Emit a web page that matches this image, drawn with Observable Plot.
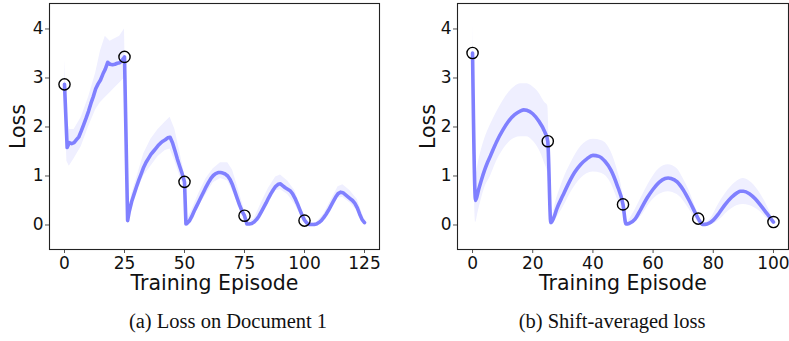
<!DOCTYPE html>
<html>
<head>
<meta charset="utf-8">
<script src="https://cdn.jsdelivr.net/npm/d3@7"></script>
<script src="https://cdn.jsdelivr.net/npm/@observablehq/plot@0.6"></script>
<style>
  html, body { margin: 0; padding: 0; background: #fff; }
  #wrap { position: relative; width: 789px; height: 341px; overflow: hidden; }
  .panel { position: absolute; top: 0; }
  .cap { position: absolute; top: 309px; font-family: "Liberation Serif", "DejaVu Serif", serif; font-size: 20.5px; line-height: 24px; color: #111; white-space: nowrap; transform: translateX(-50%); }
</style>
</head>
<body>
<div id="wrap">
  <div id="left" class="panel" style="left:0px"></div>
  <div id="right" class="panel" style="left:395px"></div>
  <div class="cap" style="left:228px">(a) Loss on Document 1</div>
  <div class="cap" style="left:612px">(b) Shift-averaged loss</div>
</div>
<script>
// ---------- Panel (a): Loss on Document 1 ----------
const leftX = [
  0, 1.1, 2, 3, 4, 5, 6, 7, 8, 9, 10, 11, 12, 13, 14, 15, 16, 17, 18, 19, 20, 21, 22, 23, 24, 25,
  26.3, 27, 28, 29, 30, 31, 32, 33, 34, 35, 36, 37, 38, 39, 40, 41, 42, 43, 44, 45, 46, 47, 48, 49, 50,
  50.6, 51, 52, 53, 54, 55, 56, 57, 58, 59, 60, 61, 62, 63, 64, 65, 66, 67, 68, 69, 70, 71, 72, 73, 74, 75,
  76, 77, 78, 79, 80, 81, 82, 83, 84, 85, 86, 87, 88, 89, 90, 91, 92, 93, 94, 95, 96, 97, 98, 99, 100,
  101, 102, 103, 104, 105, 106, 107, 108, 109, 110, 111, 112, 113, 114, 115, 116, 117, 118, 119, 120, 121, 122, 123, 124, 125
];
const leftLoss = [
  2.87, 1.58, 1.68, 1.66, 1.68, 1.74, 1.80, 1.92, 2.05, 2.18, 2.32, 2.48, 2.62, 2.78, 2.88, 2.96, 3.08, 3.18, 3.32, 3.28, 3.27, 3.28, 3.30, 3.31, 3.36, 3.43,
  0.09, 0.28, 0.48, 0.63, 0.78, 0.92, 1.05, 1.18, 1.28, 1.36, 1.44, 1.50, 1.56, 1.62, 1.67, 1.71, 1.74, 1.78, 1.79, 1.68, 1.52, 1.35, 1.20, 1.05, 0.88,
  0.02, 0.03, 0.08, 0.17, 0.28, 0.38, 0.48, 0.58, 0.68, 0.78, 0.87, 0.95, 1.01, 1.05, 1.07, 1.07, 1.06, 1.04, 1.00, 0.93, 0.82, 0.68, 0.54, 0.40, 0.28, 0.19,
  0.02, 0.02, 0.03, 0.06, 0.11, 0.18, 0.27, 0.36, 0.45, 0.55, 0.64, 0.72, 0.79, 0.83, 0.84, 0.80, 0.76, 0.73, 0.70, 0.64, 0.55, 0.44, 0.32, 0.20, 0.10,
  0.04, 0.01, 0.01, 0.01, 0.02, 0.05, 0.09, 0.15, 0.22, 0.30, 0.39, 0.48, 0.57, 0.64, 0.67, 0.66, 0.62, 0.58, 0.54, 0.50, 0.44, 0.35, 0.22, 0.11, 0.05
];
const leftBandX  = [0, 1, 2, 4, 7, 10, 13, 15, 17, 19, 21, 23, 25, 26.3, 28, 30, 33, 36, 39, 42, 44, 46, 48, 50, 50.6, 53, 56, 59, 62, 65, 68, 70, 72, 75, 76, 79, 82, 85, 88, 90, 93, 96, 100, 102, 105, 108, 111, 114, 116, 119, 122, 125];
const leftBandLo = [2.75, 1.3, 1.2, 1.35, 1.6, 2.0, 2.35, 2.5, 2.6, 2.7, 2.8, 2.9, 3.0, 0.05, 0.35, 0.65, 1.0, 1.2, 1.4, 1.52, 1.55, 1.3, 1.0, 0.75, 0.0, 0.1, 0.38, 0.62, 0.86, 0.95, 0.9, 0.7, 0.45, 0.12, 0.0, 0.03, 0.2, 0.45, 0.7, 0.72, 0.62, 0.42, 0.05, 0.0, 0.0, 0.1, 0.32, 0.55, 0.56, 0.45, 0.28, 0.02];
const leftBandHi = [3.37, 2.2, 1.95, 1.95, 2.2, 2.6, 3.1, 3.55, 3.85, 3.75, 3.8, 3.85, 4.0, 0.15, 0.62, 0.95, 1.45, 1.75, 1.95, 2.1, 2.2, 1.95, 1.5, 1.05, 0.05, 0.3, 0.65, 0.95, 1.15, 1.27, 1.27, 1.12, 0.8, 0.3, 0.05, 0.12, 0.45, 0.75, 0.98, 1.02, 0.9, 0.7, 0.18, 0.04, 0.05, 0.22, 0.5, 0.78, 0.82, 0.7, 0.52, 0.1];
const leftMarkX = [0, 25, 50, 75, 100];
const leftMarkY = [2.87, 3.43, 0.88, 0.19, 0.09];
const leftXTicks = [0, 25, 50, 75, 100, 125];

// ---------- Panel (b): Shift-averaged loss ----------
const rightX = [0, 1, 2, 3, 4, 5, 6, 8, 10, 12, 14, 16, 17, 18, 20, 22, 24, 25,
  26, 27, 28, 30, 32, 34, 36, 38, 40, 42, 44, 46, 48, 50,
  51, 52, 54, 56, 58, 60, 62, 64, 65, 66, 68, 70, 72, 74, 75,
  76.5, 78, 80, 82, 84, 86, 88, 89, 90, 92, 94, 96, 98, 100];
const rightLoss = [3.51, 0.50, 0.72, 0.93, 1.12, 1.28, 1.42, 1.70, 1.93, 2.12, 2.25, 2.33, 2.35, 2.34, 2.27, 2.12, 1.90, 1.71,
  0.05, 0.15, 0.33, 0.60, 0.86, 1.08, 1.24, 1.35, 1.42, 1.40, 1.30, 1.12, 0.82, 0.42,
  0.02, 0.03, 0.12, 0.33, 0.55, 0.73, 0.87, 0.95, 0.96, 0.95, 0.88, 0.72, 0.50, 0.25, 0.13,
  0.01, 0.02, 0.10, 0.25, 0.42, 0.56, 0.66, 0.69, 0.69, 0.64, 0.53, 0.38, 0.22, 0.06];
const rightBandX  = [0, 1, 2, 4, 6, 8, 10, 12, 14, 16, 18, 20, 22, 24, 25, 26, 28, 30, 33, 36, 40, 43, 46, 48, 50, 51, 53, 56, 59, 62, 65, 68, 70, 72, 75, 76.5, 79, 82, 85, 88, 90, 92, 95, 98, 100];
const rightBandLo = [3.1, 0.05, 0.3, 0.75, 1.0, 1.3, 1.52, 1.68, 1.77, 1.8, 1.8, 1.72, 1.55, 1.25, 1.05, 0.0, 0.15, 0.35, 0.7, 0.95, 1.08, 1.05, 0.85, 0.55, 0.25, 0.0, 0.02, 0.18, 0.45, 0.62, 0.68, 0.62, 0.5, 0.32, 0.05, 0.0, 0.0, 0.1, 0.28, 0.4, 0.42, 0.4, 0.3, 0.12, 0.02];
const rightBandHi = [4.12, 1.0, 1.3, 1.75, 2.05, 2.3, 2.52, 2.7, 2.82, 2.88, 2.88, 2.82, 2.7, 2.5, 2.43, 0.12, 0.55, 0.9, 1.3, 1.6, 1.75, 1.72, 1.5, 1.15, 0.6, 0.05, 0.2, 0.55, 0.9, 1.15, 1.23, 1.15, 0.95, 0.7, 0.22, 0.03, 0.12, 0.45, 0.72, 0.9, 0.95, 0.9, 0.7, 0.38, 0.1];
const rightMarkX = [0, 25, 50, 75, 100];
const rightMarkY = [3.51, 1.71, 0.42, 0.13, 0.06];
const rightXTicks = [0, 20, 40, 60, 80, 100];

const yTicks = [0, 1, 2, 3, 4];
const yLabel = "Loss";
const xLabel = "Training Episode";

const LINE = "#8080ff";
const BAND = "#efefff";

function panel({xs, ys, bx, blo, bhi, mx, my, xTicks, xDomain, width, marginLeft, marginRight, curve, yLabelDx}) {
  const line = xs.map((x, i) => ({x, y: ys[i]}));
  const band = bx.map((x, i) => ({x, lo: blo[i], hi: bhi[i]}));
  const marks = mx.map((x, i) => ({x, y: my[i]}));
  return Plot.plot({
    width, height: 300,
    marginLeft, marginRight, marginTop: 3, marginBottom: 51,
    style: {fontFamily: "DejaVu Sans, sans-serif", fontSize: "17px", color: "#111", background: "#fff"},
    x: {domain: xDomain},
    y: {domain: [-0.5, 4.52]},
    marks: [
      Plot.areaY(band, {x: "x", y1: "lo", y2: "hi", fill: BAND, curve}),
      Plot.line(line, {x: "x", y: "y", stroke: LINE, strokeWidth: 3.6, curve, strokeLinejoin: "round", strokeLinecap: "round"}),
      Plot.dot(marks, {x: "x", y: "y", r: 5.6, stroke: "#000", strokeWidth: 1.4, fill: "none"}),
      Plot.axisY({ticks: yTicks, tickFormat: d => String(d), tickSize: 4, tickPadding: 2, label: null, stroke: "#555", fill: "#111", fontSize: 17}),
      Plot.axisX({ticks: xTicks, tickFormat: d => String(d), tickSize: 4, tickPadding: 3, label: null, stroke: "#555", fill: "#111", fontSize: 17}),
      Plot.frame({stroke: "#222", strokeWidth: 1.1}),
      Plot.text([yLabel], {frameAnchor: "left", dx: yLabelDx, rotate: -90, textAnchor: "middle", lineAnchor: "middle", fontSize: 20.5, fill: "#111"}),
      Plot.text([xLabel], {frameAnchor: "bottom", dy: 34, textAnchor: "middle", lineAnchor: "middle", fontSize: 20.5, fill: "#111"})
    ]
  });
}

document.getElementById("left").append(panel({
  xs: leftX, ys: leftLoss, bx: leftBandX, blo: leftBandLo, bhi: leftBandHi,
  mx: leftMarkX, my: leftMarkY, xTicks: leftXTicks, xDomain: [-6.25, 131.25],
  width: 390, marginLeft: 49, marginRight: 11, curve: "linear", yLabelDx: -31
}));
document.getElementById("right").append(panel({
  xs: rightX, ys: rightLoss, bx: rightBandX, blo: rightBandLo, bhi: rightBandHi,
  mx: rightMarkX, my: rightMarkY, xTicks: rightXTicks, xDomain: [-5, 105],
  width: 394, marginLeft: 62, marginRight: 1, curve: "monotone-x", yLabelDx: -29
}));
</script>
</body>
</html>
